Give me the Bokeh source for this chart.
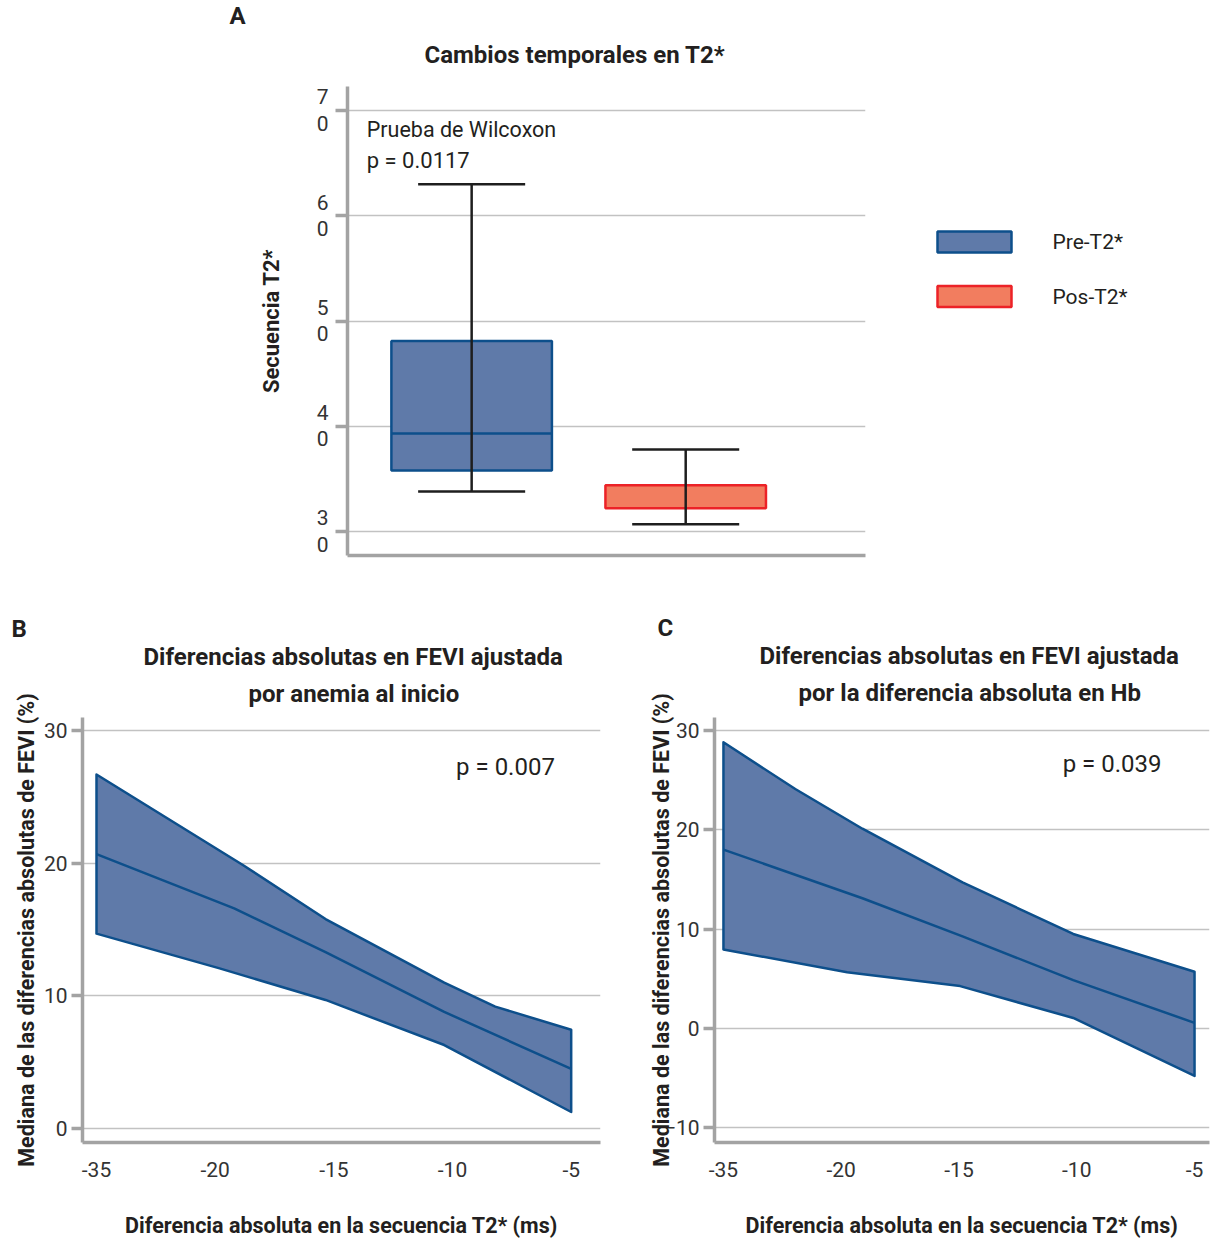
from bokeh.plotting import figure
from bokeh.layouts import row, column
from bokeh.models import Range1d, FixedTicker, Label, Title
from bokeh.core.properties import value
from bokeh.embed import file_html
from bokeh.resources import INLINE

# ---------------- data ----------------
# Panel A: box plot of T2* sequence
a_groups = ["Pre-T2*", "Pos-T2*"]
a_whisker_low = [33.8, 30.7]
a_q1 = [35.8, 32.2]
a_median = [39.3, None]
a_q3 = [48.1, 34.4]
a_whisker_high = [63.0, 37.8]
a_yticks = [30, 40, 50, 60, 70]
a_fill = ["#5f7aa9", "#f27d5f"]
a_edge = ["#0d4f8b", "#ec2227"]

# Panels B and C: x tick labels (equally spaced categories)
x_tick_labels = ["-35", "-20", "-15", "-10", "-5"]

# Panel B (position in tick-index units, value in %)
b_upper_pos = [0, 1.23, 1.93, 2.93, 3.36, 4]
b_upper_val = [26.7, 19.9, 15.8, 11.0, 9.2, 7.45]
b_mid_pos = [0, 1.16, 1.93, 2.93, 4]
b_mid_val = [20.7, 16.6, 13.3, 8.8, 4.5]
b_lower_pos = [0, 1.03, 1.93, 2.93, 4]
b_lower_val = [14.7, 12.1, 9.7, 6.3, 1.25]
b_yticks = [0, 10, 20, 30]

# Panel C
c_upper_pos = [0, 0.61, 1.18, 2.03, 2.97, 4]
c_upper_val = [28.8, 24.1, 20.1, 14.7, 9.5, 5.7]
c_mid_pos = [0, 1.18, 2.03, 2.97, 4]
c_mid_val = [18.0, 13.1, 9.26, 4.85, 0.55]
c_lower_pos = [0, 1.05, 2.01, 2.97, 4]
c_lower_val = [7.94, 5.65, 4.25, 1.04, -4.8]
c_yticks = [-10, 0, 10, 20, 30]

# ---------------- styles ----------------
FONT = "Roboto"
TXT = "#231f20"
AX = "#a3a3a3"
GRID = "#c2c2c2"
BAND_FILL = "#5f7aa9"
BAND_LINE = "#0d4f8b"


def style_axes(p):
    p.outline_line_color = None
    p.xgrid.grid_line_color = None
    p.ygrid.grid_line_color = GRID
    p.ygrid.grid_line_width = 1.3
    for ax in p.axis:
        ax.axis_line_color = AX
        ax.axis_line_width = 3.5
        ax.major_tick_line_color = AX
        ax.major_tick_line_width = 3.5
        ax.minor_tick_line_color = None
        ax.major_tick_in = 0
        ax.major_label_text_font = FONT
        ax.major_label_text_font_size = "21px"
        ax.major_label_text_color = "#333333"
        ax.axis_label_text_font = FONT
        ax.axis_label_text_font_style = "bold"
        ax.axis_label_text_font_size = "21.5px"
        ax.axis_label_text_color = TXT


def set_titles(p, lines, letter, letter_offset, letter_standoff):
    # lines: list of (text, left offset, standoff), ordered from the frame outward
    p.title.text = letter
    p.title.align = "left"
    p.title.offset = letter_offset
    p.title.standoff = letter_standoff
    p.title.text_font = FONT
    p.title.text_font_size = "24px"
    p.title.text_font_style = "bold"
    p.title.text_color = TXT
    for text, off, so in lines:
        p.add_layout(Title(text=text, align="left", offset=off, standoff=so,
                           text_font=FONT, text_font_size="24px", text_font_style="bold",
                           text_color=TXT), "above")


def add_text(p, text, x, y, size):
    p.add_layout(Label(x=x, y=y, text=text, text_font=FONT, text_font_size=size,
                       text_color=TXT, text_align="left", text_baseline="middle"))


# ---------------- Panel A ----------------
pA = figure(width=880, height=600, x_range=Range1d(0.42, 2.84), y_range=Range1d(27.72, 72.28),
            output_backend="svg", toolbar_location=None,
            min_border_left=347, min_border_right=15, min_border_top=86, min_border_bottom=45)
style_axes(pA)
pA.xaxis.ticker = FixedTicker(ticks=[])
pA.xaxis.major_tick_line_color = None
pA.yaxis.ticker = FixedTicker(ticks=a_yticks)
pA.yaxis.major_label_overrides = {t: "\n".join(str(t)) for t in a_yticks}
pA.yaxis.major_label_text_line_height = 1.1
pA.yaxis.major_tick_out = 12
pA.yaxis.major_label_standoff = 7
pA.yaxis.axis_label = "Secuencia T2*"
pA.yaxis.axis_label_text_font_size = "22px"
pA.yaxis.axis_label_standoff = 30
set_titles(pA, [("Cambios temporales en T2*", 77, 35)], "A", -118, -17)

a_pos = [i + 1 for i in range(len(a_groups))]
box_half = 0.375
cap_half = 0.25
pA.quad(left=[x - box_half for x in a_pos], right=[x + box_half for x in a_pos],
         bottom=a_q1, top=a_q3, fill_color=a_fill, line_color=a_edge, line_width=2.5)
med_x = [x for x, m in zip(a_pos, a_median) if m is not None]
med_y = [m for m in a_median if m is not None]
pA.segment(x0=[x - box_half for x in med_x], x1=[x + box_half for x in med_x], y0=med_y, y1=med_y,
           line_color=a_edge[0], line_width=2.5)
pA.segment(x0=a_pos, x1=a_pos, y0=a_whisker_low, y1=a_whisker_high, line_color="#1e1e1e", line_width=2.5)
pA.segment(x0=[x - cap_half for x in a_pos], x1=[x + cap_half for x in a_pos],
           y0=a_whisker_high, y1=a_whisker_high, line_color="#1e1e1e", line_width=2.5)
pA.segment(x0=[x - cap_half for x in a_pos], x1=[x + cap_half for x in a_pos],
           y0=a_whisker_low, y1=a_whisker_low, line_color="#1e1e1e", line_width=2.5)

add_text(pA, "Prueba de Wilcoxon", 0.51, 68.2, "21.5px")
add_text(pA, "p = 0.0117", 0.51, 65.25, "22px")

# legend figure (canvas-aligned pixel space, frame aligned with panel A)
pL = figure(width=341, height=600, x_range=Range1d(880, 1221), y_range=Range1d(555, 86),
            output_backend="svg", toolbar_location=None, x_axis_location=None, y_axis_location=None,
            min_border_left=0, min_border_right=0, min_border_top=86, min_border_bottom=45)
pL.outline_line_color = None
pL.xgrid.visible = False
pL.ygrid.visible = False
leg_y = [241.5 + 54.5 * i for i in range(len(a_groups))]
pL.rect(x=[974] * len(a_groups), y=leg_y, width=74, height=21, fill_color=a_fill,
        line_color=a_edge, line_width=2.5)
pL.text(x=[1052] * len(a_groups), y=leg_y, text=a_groups, text_font=value(FONT),
        text_font_size="21px", text_color=TXT, text_baseline="middle", text_align="left")


# ---------------- Panels B and C ----------------
def band_panel(width, height, xr, yr, borders, up_p, up_v, mid_p, mid_v, lo_p, lo_v, yticks,
               ylabel_standoff):
    p = figure(width=width, height=height, x_range=Range1d(*xr), y_range=Range1d(*yr),
               output_backend="svg", toolbar_location=None,
               min_border_left=borders[0], min_border_right=borders[1],
               min_border_top=borders[2], min_border_bottom=borders[3])
    style_axes(p)
    p.xaxis.ticker = FixedTicker(ticks=list(range(len(x_tick_labels))))
    p.xaxis.major_label_overrides = {i: s for i, s in enumerate(x_tick_labels)}
    p.xaxis.major_tick_line_color = None
    p.xaxis.major_tick_out = 0
    p.xaxis.major_label_standoff = 19
    p.xaxis.axis_label = "Diferencia absoluta en la secuencia T2* (ms)"
    p.xaxis.axis_label_standoff = 33
    p.yaxis.ticker = FixedTicker(ticks=yticks)
    p.yaxis.major_tick_out = 11
    p.yaxis.major_label_standoff = 4
    p.yaxis.axis_label = "Mediana de las diferencias absolutas de FEVI (%)"
    p.yaxis.axis_label_standoff = ylabel_standoff
    xs = list(up_p) + list(lo_p)[::-1]
    ys = list(up_v) + list(lo_v)[::-1]
    p.patch(xs, ys, fill_color=BAND_FILL, line_color=BAND_LINE, line_width=2.5, line_join="round")
    p.line(mid_p, mid_v, line_color=BAND_LINE, line_width=2.5)
    return p


pB = band_panel(615, 640, (-0.118, 4.247), (-1.05, 31.0), (82, 15, 115, 98),
                b_upper_pos, b_upper_val, b_mid_pos, b_mid_val, b_lower_pos, b_lower_val, b_yticks, 2)
add_text(pB, "p = 0.007", 3.03, 27.3, "24px")
set_titles(pB, [("por anemia al inicio", 166, 20),
                ("Diferencias absolutas en FEVI ajustada", 61, -7)], "B", -71, 4)

pC = band_panel(606, 640, (-0.076, 4.127), (-11.5, 31.3), (99, 12, 117, 96),
                c_upper_pos, c_upper_val, c_mid_pos, c_mid_val, c_lower_pos, c_lower_val, c_yticks, -13)
add_text(pC, "p = 0.039", 2.88, 26.6, "24px")
set_titles(pC, [("por la diferencia absoluta en Hb", 84, 21),
                ("Diferencias absolutas en FEVI ajustada", 45, -7)], "C", -57, 3)

layout = column(row(pA, pL, spacing=0), row(pB, pC, spacing=0), spacing=0)
open("out.html", "w").write(file_html(layout, INLINE))
